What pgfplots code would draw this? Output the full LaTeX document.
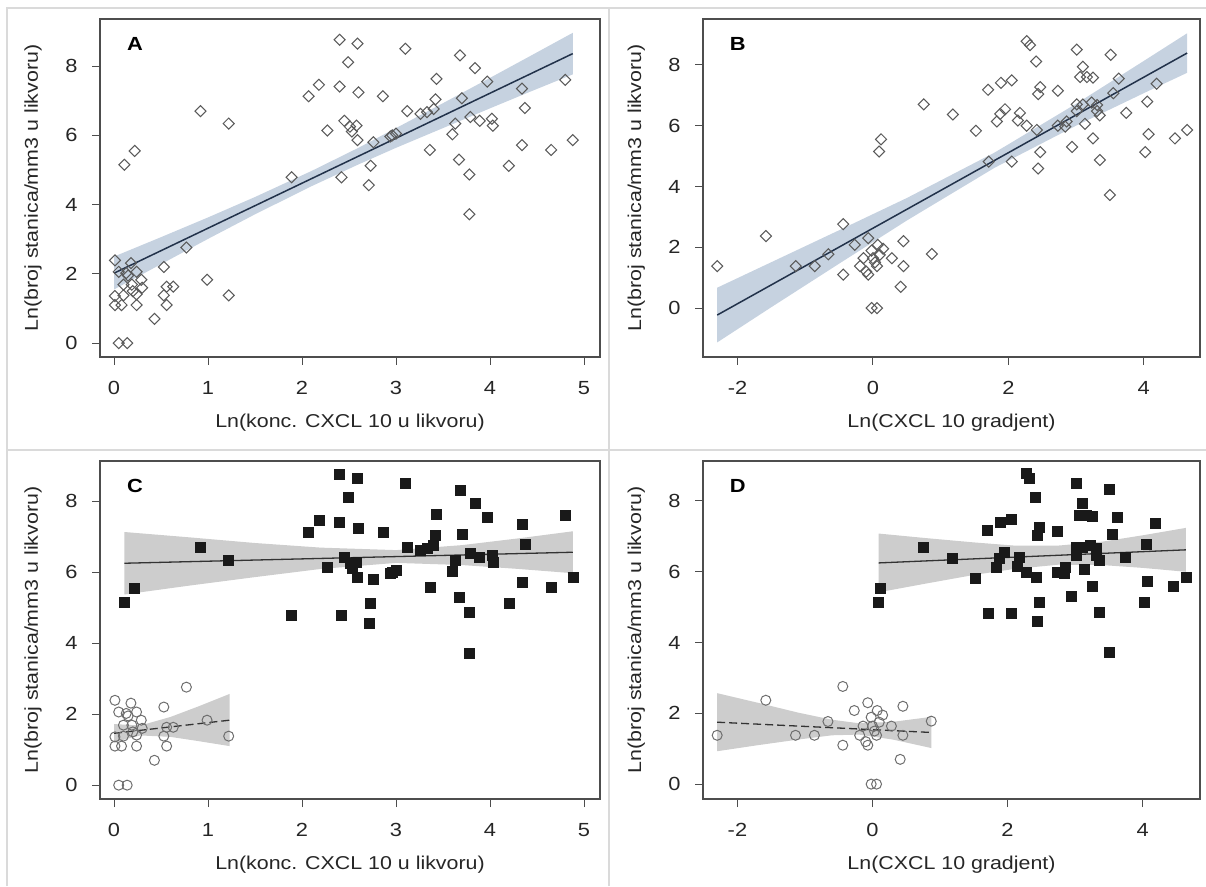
\documentclass[border=0pt]{standalone}
\usepackage{fontspec}
\setmainfont[FakeStretch=1.15]{Liberation Sans}
\usepackage{pgfplots}
\pgfplotsset{compat=1.18}
\usepackage{pgfplotstable}

\definecolor{framec}{HTML}{4D4D4D}
\definecolor{divc}{HTML}{DADADA}
\definecolor{markc}{HTML}{5A5A5A}
\definecolor{circc}{HTML}{6E6E6E}
\definecolor{bandblue}{HTML}{C6D2E0}
\definecolor{fitblue}{HTML}{22324A}
\definecolor{bandgray}{HTML}{CDCDCD}
\definecolor{fitgray}{HTML}{333333}

% low group (open circles in C), x = Ln(konc. CXCL 10)
\pgfplotstableread{
x y
0.01 2.39
0.18 2.31
0.05 2.06
0.13 2.02
0.24 2.06
0.15 1.95
0.29 1.83
0.19 1.69
0.10 1.69
0.30 1.60
0.20 1.50
0.01 1.36
0.10 1.38
0.24 1.41
0.01 1.10
0.08 1.10
0.24 1.10
0.43 0.70
0.77 2.76
0.53 2.20
0.53 1.38
0.56 1.10
0.63 1.63
0.56 1.63
0.99 1.83
1.22 1.38
0.05 0.00
0.14 0.00
}\lowA

% high group (filled squares in C)
\pgfplotstableread{
x y
2.40 8.76
2.59 8.65
2.49 8.11
2.18 7.46
2.07 7.13
2.40 7.41
2.60 7.24
2.86 7.13
0.92 6.70
1.22 6.34
2.27 6.14
2.45 6.42
2.51 6.25
2.58 6.28
2.53 6.11
2.59 5.86
2.76 5.80
2.94 5.97
3.00 6.05
0.11 5.15
0.22 5.55
1.89 4.79
2.42 4.79
2.73 5.12
2.71 4.56
3.10 8.50
3.68 8.31
3.84 7.94
3.97 7.55
3.43 7.63
4.34 7.35
4.80 7.60
3.42 7.04
3.70 7.07
3.12 6.70
3.26 6.62
3.33 6.67
3.40 6.76
4.37 6.79
3.79 6.53
3.89 6.42
4.02 6.48
4.03 6.28
3.63 6.34
3.60 6.03
3.36 5.58
4.34 5.72
4.65 5.58
4.88 5.86
3.67 5.30
4.20 5.12
3.78 4.87
3.78 3.72
2.96 6.00
}\highA

% low group, x = Ln(CXCL 10 gradjent)
\pgfplotstableread{
x y
-2.30 1.38
-1.58 2.37
-1.14 1.38
-0.86 1.38
-0.66 1.77
-0.44 2.76
-0.44 1.10
-0.27 2.08
-0.07 2.30
0.07 2.08
-0.02 1.89
0.10 1.75
-0.14 1.64
0.00 1.64
0.28 1.64
-0.19 1.38
0.06 1.38
-0.07 1.10
-0.10 1.20
0.03 1.50
0.15 1.95
0.45 2.20
0.45 1.38
0.41 0.70
0.87 1.78
-0.02 0.00
0.06 0.00
}\lowB

% high group, x = Ln(CXCL 10 gradjent)
\pgfplotstableread{
x y
2.27 8.78
2.32 8.65
2.41 8.11
3.01 8.50
3.51 8.33
3.10 7.94
3.06 7.60
3.16 7.60
3.25 7.58
3.63 7.55
4.19 7.38
1.70 7.18
1.89 7.41
2.05 7.49
2.47 7.27
2.44 7.04
2.73 7.15
3.55 7.07
1.18 6.37
1.95 6.54
1.88 6.39
1.83 6.14
2.17 6.42
2.14 6.17
2.27 6.00
2.42 5.86
3.01 6.70
3.10 6.70
3.23 6.76
3.31 6.68
3.01 6.48
3.31 6.48
3.35 6.34
2.86 6.14
2.73 6.00
2.84 5.97
3.13 6.06
4.05 6.79
3.74 6.42
1.52 5.83
3.25 5.58
4.07 5.72
4.46 5.58
4.64 5.86
2.47 5.13
2.94 5.30
4.02 5.13
3.35 4.87
1.71 4.82
2.05 4.82
2.44 4.59
3.50 3.72
0.75 6.70
0.12 5.55
0.09 5.15
}\highB

\pgfplotsset{
  panel/.style={
    scale only axis, width=500pt, height=338pt, anchor=north west,
    axis line style={draw=framec, line width=1.3pt},
    tick align=outside, major tick length=8pt,
    tick style={draw=framec, line width=1pt},
    xtick pos=bottom, ytick pos=left,
    ytick={0,2,...,8},
    ticklabel style={font=\fontsize{19}{21}\selectfont, text=black!85},
    xticklabel style={yshift=-13pt},
    yticklabel style={xshift=-11pt},
    label style={font=\fontsize{18.6}{21}\selectfont, text=black!85},
    xlabel style={at={(axis description cs:0.5,-0.193)}, anchor=center},
    ylabel style={at={(axis description cs:-0.134,0.5)}, anchor=center},
    /pgf/number format/assume math mode=true,
    ylabel={Ln(broj stanica/mm3 u likvoru)},
  },
  diam/.style={only marks, mark=square, mark size=3.9pt,
    mark options={rotate=45, draw=markc, line width=1.05pt}},
  circ/.style={only marks, mark=o, mark size=5pt,
    mark options={draw=circc, line width=1pt}},
  sq/.style={only marks, mark=square*, mark size=5pt,
    mark options={draw=black!90, fill=black!90}},
  fitdash/.style={fitgray, line width=1.3pt, dash pattern=on 8pt off 4pt},
}

\newcommand{\panellabel}[1]{\node[font=\bfseries\fontsize{19}{20}\selectfont] at (rel axis cs:0.07,0.925) {#1};}

\begin{document}
\begin{tikzpicture}[x=1pt, y=1pt]
\useasboundingbox (0,0) rectangle (1206,886);
\draw[divc, line width=1.5pt] (7,0) -- (7,878) -- (1206,878);
\draw[divc, line width=1.5pt] (609,0) -- (609,878);
\draw[divc, line width=1.5pt] (7,436) -- (1206,436);

% A
\begin{axis}[panel, at={(100pt,867pt)},
  xmin=-0.149, xmax=5.17, ymin=-0.40, ymax=9.36, xtick={0,1,...,5},
  xlabel={Ln(konc. CXCL 10 u likvoru)}]
\addplot[fill=bandblue, draw=none] coordinates {(0,2.50) (0.5,3.06) (1,3.63) (1.5,4.22) (2.1,4.97) (2.6,5.64) (3,6.21) (3.5,6.93) (4,7.66) (4.4,8.25) (4.88,8.96) (4.88,7.76) (4.4,7.23) (4,6.78) (3.5,6.21) (3,5.64) (2.6,5.16) (2.1,4.53) (1.5,3.72) (1,3.01) (0.5,2.28) (0,1.55)} -- cycle;
\addplot[diam] table {\lowA};
\addplot[diam] table {\highA};
\addplot[fitblue, line width=1.5pt] coordinates {(0,2.02) (4.88,8.36)};
\panellabel{A}
\end{axis}

% B
\begin{axis}[panel, at={(703pt,867pt)}, width=497pt,
  xmin=-2.51, xmax=4.83, ymin=-1.61, ymax=9.51, xtick={-2,0,2,4},
  xlabel={Ln(CXCL 10 gradjent)}]
\addplot[fill=bandblue, draw=none] coordinates {(-2.3,0.67) (-1.5,1.51) (-0.5,2.56) (0.5,3.62) (1.8,5.12) (3.0,6.72) (4.0,8.13) (4.64,9.04) (4.64,7.74) (4.0,7.07) (3.0,6.00) (1.8,4.62) (0.5,2.88) (-0.5,1.46) (-1.5,0.03) (-2.3,-1.13)} -- cycle;
\addplot[diam] table {\lowB};
\addplot[diam] table {\highB};
\addplot[fitblue, line width=1.5pt] coordinates {(-2.3,-0.23) (4.64,8.39)};
\panellabel{B}
\end{axis}

% C
\begin{axis}[panel, at={(100pt,425pt)},
  xmin=-0.149, xmax=5.17, ymin=-0.39, ymax=9.13, xtick={0,1,...,5},
  xlabel={Ln(konc. CXCL 10 u likvoru)}]
\addplot[fill=bandgray, draw=none] coordinates {(0.11,7.13) (0.8,6.98) (1.5,6.82) (2.2,6.69) (3.0,6.62) (3.7,6.76) (4.3,6.95) (4.88,7.15) (4.88,5.97) (4.3,6.09) (3.7,6.20) (3.0,6.26) (2.2,6.09) (1.5,5.86) (0.8,5.62) (0.11,5.37)} -- cycle;
\addplot[fill=bandgray, draw=none] coordinates {(0,1.72) (0.28,1.68) (0.6,1.92) (0.9,2.22) (1.23,2.57) (1.23,1.10) (0.9,1.24) (0.6,1.36) (0.28,1.40) (0,1.21)} -- cycle;
\addplot[circ] table {\lowA};
\addplot[sq] table {\highA};
\addplot[fitgray, line width=1.3pt] coordinates {(0.11,6.25) (4.88,6.56)};
\addplot[fitdash] coordinates {(0,1.46) (1.23,1.83)};
\panellabel{C}
\end{axis}

% D
\begin{axis}[panel, at={(703pt,425pt)}, width=497pt,
  xmin=-2.51, xmax=4.85, ymin=-0.42, ymax=9.13, xtick={-2,0,2,4},
  xlabel={Ln(CXCL 10 gradjent)}]
\addplot[fill=bandgray, draw=none] coordinates {(0.09,7.08) (0.8,6.95) (1.5,6.83) (2.1,6.74) (2.75,6.74) (3.4,6.85) (4.0,7.03) (4.64,7.24) (4.64,6.00) (4.0,6.11) (3.4,6.19) (2.75,6.20) (2.1,6.08) (1.5,5.91) (0.8,5.67) (0.09,5.42)} -- cycle;
\addplot[fill=bandgray, draw=none] coordinates {(-2.3,2.57) (-1.7,2.30) (-1.1,2.02) (-0.6,1.82) (-0.2,1.72) (0.3,1.76) (0.87,1.90) (0.87,1.02) (0.3,1.26) (-0.2,1.40) (-0.6,1.38) (-1.1,1.26) (-1.7,1.10) (-2.3,0.93)} -- cycle;
\addplot[circ] table {\lowB};
\addplot[sq] table {\highB};
\addplot[fitgray, line width=1.3pt] coordinates {(0.09,6.25) (4.64,6.62)};
\addplot[fitdash] coordinates {(-2.3,1.75) (0.87,1.46)};
\panellabel{D}
\end{axis}
\end{tikzpicture}
\end{document}
